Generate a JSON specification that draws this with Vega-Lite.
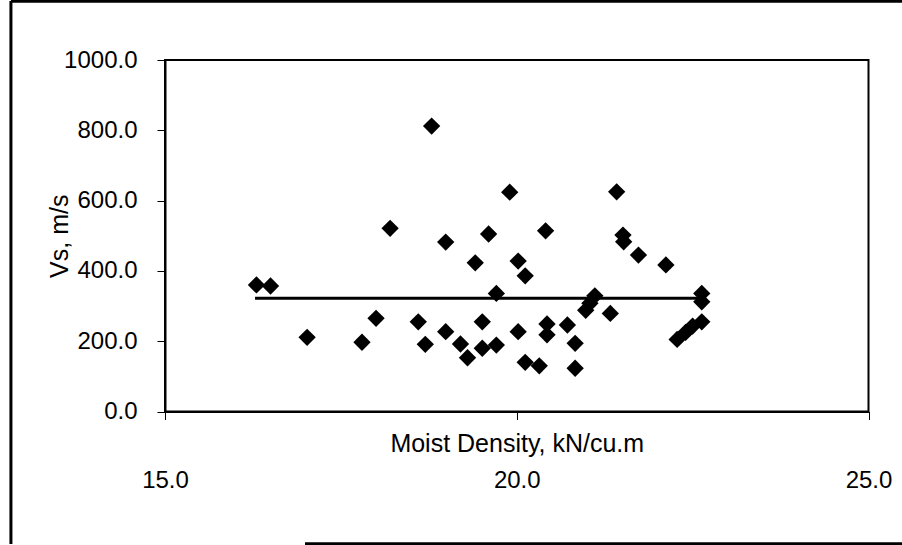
{
  "$schema": "https://vega.github.io/schema/vega-lite/v6.json",
  "width": 703.5,
  "height": 351.5,
  "autosize": {"type": "none"},
  "padding": {"left": 165, "top": 60, "right": 33.5, "bottom": 133.5},
  "background": "white",
  "config": {
    "view": {"stroke": "black", "strokeWidth": 2},
    "font": "Liberation Sans"
  },
  "datasets": {
    "points": [
      {"density": 16.30, "vs": 360},
      {"density": 16.50, "vs": 357},
      {"density": 17.02, "vs": 211},
      {"density": 17.80, "vs": 197},
      {"density": 18.00, "vs": 265},
      {"density": 18.20, "vs": 521},
      {"density": 18.60, "vs": 255},
      {"density": 18.70, "vs": 191},
      {"density": 18.79, "vs": 812},
      {"density": 18.99, "vs": 227},
      {"density": 18.99, "vs": 482},
      {"density": 19.20, "vs": 192},
      {"density": 19.30, "vs": 153},
      {"density": 19.41, "vs": 423},
      {"density": 19.51, "vs": 255},
      {"density": 19.51, "vs": 180},
      {"density": 19.60, "vs": 505},
      {"density": 19.71, "vs": 189},
      {"density": 19.71, "vs": 336},
      {"density": 19.90, "vs": 624},
      {"density": 20.02, "vs": 227},
      {"density": 20.02, "vs": 428},
      {"density": 20.12, "vs": 386},
      {"density": 20.12, "vs": 140},
      {"density": 20.32, "vs": 130},
      {"density": 20.41, "vs": 514},
      {"density": 20.43, "vs": 249},
      {"density": 20.43, "vs": 218},
      {"density": 20.72, "vs": 246},
      {"density": 20.83, "vs": 194},
      {"density": 20.83, "vs": 123},
      {"density": 20.98, "vs": 288},
      {"density": 21.04, "vs": 308},
      {"density": 21.11, "vs": 329},
      {"density": 21.33, "vs": 279},
      {"density": 21.42, "vs": 625},
      {"density": 21.51, "vs": 502},
      {"density": 21.52, "vs": 483},
      {"density": 21.73, "vs": 445},
      {"density": 22.12, "vs": 417},
      {"density": 22.28, "vs": 205},
      {"density": 22.40, "vs": 225},
      {"density": 22.50, "vs": 243},
      {"density": 22.63, "vs": 336},
      {"density": 22.63, "vs": 312},
      {"density": 22.63, "vs": 255}
    ],
    "trend": [
      {"density": 16.28, "vs": 322},
      {"density": 22.60, "vs": 322}
    ],
    "frame": [{"side": "border"}]
  },
  "layer": [
    {
      "data": {"name": "points"},
      "mark": {"type": "point", "shape": "diamond", "filled": true, "color": "black", "opacity": 1, "size": 300},
      "encoding": {
        "x": {
          "field": "density",
          "type": "quantitative",
          "scale": {"domain": [15, 25], "nice": false, "zero": false},
          "axis": {
            "title": "Moist Density, kN/cu.m",
            "values": [15, 20, 25],
            "format": ".1f",
            "grid": false,
            "tickSize": 8,
            "tickColor": "black",
            "tickWidth": 1,
            "domainColor": "black",
            "domainWidth": 2,
            "labelFontSize": 24,
            "labelColor": "black",
            "labelBaseline": "alphabetic",
            "labelPadding": 68,
            "labelFlush": false,
            "labelOverlap": false,
            "titleFontSize": 25,
            "titleFontWeight": "normal",
            "titleColor": "black",
            "titleY": 40,
            "titleBaseline": "alphabetic"
          }
        },
        "y": {
          "field": "vs",
          "type": "quantitative",
          "scale": {"domain": [0, 1000], "nice": false, "zero": true},
          "axis": {
            "title": "Vs, m/s",
            "values": [0, 200, 400, 600, 800, 1000],
            "format": ".1f",
            "grid": false,
            "tickSize": 8,
            "tickColor": "black",
            "tickWidth": 1,
            "domainColor": "black",
            "domainWidth": 2,
            "labelFontSize": 24,
            "labelColor": "black",
            "labelPadding": 20,
            "labelOverlap": false,
            "titleFontSize": 25,
            "titleFontWeight": "normal",
            "titleColor": "black",
            "titleAngle": 270,
            "titleX": -98,
            "titleY": 175.75,
            "titleAlign": "center",
            "titleBaseline": "alphabetic"
          }
        }
      }
    },
    {
      "data": {"name": "trend"},
      "mark": {"type": "line", "color": "black", "strokeWidth": 3},
      "encoding": {
        "x": {"field": "density", "type": "quantitative"},
        "y": {"field": "vs", "type": "quantitative"}
      }
    },
    {
      "data": {"name": "frame"},
      "mark": {"type": "rule", "color": "black", "strokeWidth": 3},
      "encoding": {
        "x": {"datum": 12.81, "type": "quantitative"},
        "y": {"datum": -377, "type": "quantitative"},
        "y2": {"datum": 1168}
      }
    },
    {
      "data": {"name": "frame"},
      "mark": {"type": "rule", "color": "black", "strokeWidth": 3},
      "encoding": {
        "x": {"datum": 12.81, "type": "quantitative"},
        "x2": {"datum": 25.6},
        "y": {"datum": 1167, "type": "quantitative"}
      }
    },
    {
      "data": {"name": "frame"},
      "mark": {"type": "rule", "color": "black", "strokeWidth": 3},
      "encoding": {
        "x": {"datum": 16.99, "type": "quantitative"},
        "x2": {"datum": 25.6},
        "y": {"datum": -376, "type": "quantitative"}
      }
    }
  ]
}
